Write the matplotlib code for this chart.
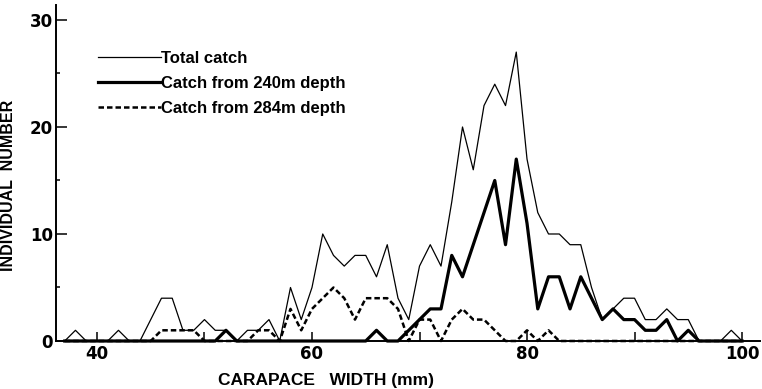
import matplotlib
matplotlib.use("Agg")
import matplotlib.pyplot as plt
from matplotlib.font_manager import FontProperties

# ---- data (carapace width in mm, individual counts) ----
widths = list(range(37, 101))
total_catch = [0, 1, 0, 0, 0, 1, 0, 0, 2, 4,
               4, 1, 1, 2, 1, 1, 0, 1, 1, 2,
               0, 5, 2, 5, 10, 8, 7, 8, 8, 6,
               9, 4, 2, 7, 9, 7, 13, 20, 16, 22,
               24, 22, 27, 17, 12, 10, 10, 9, 9, 5,
               2, 3, 4, 4, 2, 2, 3, 2, 2, 0,
               0, 0, 1, 0]
catch_240 = [0, 0, 0, 0, 0, 0, 0, 0, 0, 0,
             0, 0, 0, 0, 0, 1, 0, 0, 0, 0,
             0, 0, 0, 0, 0, 0, 0, 0, 0, 1,
             0, 0, 1, 2, 3, 3, 8, 6, 9, 12,
             15, 9, 17, 11, 3, 6, 6, 3, 6, 4,
             2, 3, 2, 2, 1, 1, 2, 0, 1, 0,
             0, 0, 0, 0]
catch_284 = [0, 0, 0, 0, 0, 0, 0, 0, 0, 1,
             1, 1, 1, 0, 0, 0, 0, 0, 1, 1,
             0, 3, 1, 3, 4, 5, 4, 2, 4, 4,
             4, 3, 0, 2, 2, 0, 2, 3, 2, 2,
             1, 0, 0, 1, 0, 1, 0, 0, 0, 0,
             0, 0, 0, 0, 0, 0, 0, 0, 0, 0,
             0, 0, 0, 0]
series_labels = ["Total catch", "Catch from 240m depth", "Catch from 284m depth"]
x_major = [40, 60, 80, 100]
x_minor = [50, 70, 90]
y_major = [0, 10, 20, 30]
y_minor = [5, 15, 25]

W, H = 762, 389
fig = plt.figure(figsize=(W / 100, H / 100), dpi=100)
ax = fig.add_axes([56 / W, (H - 341) / H, (760 - 56) / W, (341 - 5) / H])

dash = (0, (2.2, 1.2))
l1, = ax.plot(widths, total_catch, color="black", lw=0.9, clip_on=False)
l2, = ax.plot(widths, catch_240, color="black", lw=2.3, clip_on=False)
l3, = ax.plot(widths, catch_284, color="black", lw=1.8, linestyle=dash, clip_on=False)

ax.set_xlim(36.19, 101.67)
ax.set_ylim(0, 31.4)

for s in ["top", "right"]:
    ax.spines[s].set_visible(False)
for s in ["left", "bottom"]:
    ax.spines[s].set_linewidth(1.4)

ax.set_xticks(x_major)
ax.set_xticks(x_minor, minor=True)
ax.set_yticks(y_major)
ax.set_yticks(y_minor, minor=True)
tickfont = dict(family="DejaVu Sans", weight="bold", size=12)
ax.set_xticklabels([str(v) for v in x_major], **tickfont)
ax.set_yticklabels([str(v) for v in y_major], **tickfont)
ax.tick_params(axis="x", which="both", direction="in", length=6.5, width=1.1, pad=3)
ax.tick_params(axis="y", which="major", direction="in", length=8, width=1.1, pad=2)
ax.tick_params(axis="y", which="minor", direction="in", length=3, width=1.1)

lp = FontProperties(family="Liberation Sans", weight="bold", size=12)
ax.legend([l1, l2, l3], series_labels, loc="upper left",
          bbox_to_anchor=(98 / W, 1 - 51 / H), bbox_transform=fig.transFigure,
          frameon=False, handlelength=3.8, handletextpad=0.0, borderpad=0,
          borderaxespad=0, labelspacing=0.6, prop=lp)

fig.text(9 / W, 1 - 185 / H, "INDIVIDUAL  NUMBER", rotation=90, ha="center", va="center",
         family="Liberation Sans", weight="bold", size=11.5)
fig.text(326 / W, 1 - 380 / H, "CARAPACE   WIDTH (mm)", ha="center", va="center",
         family="Liberation Sans", weight="bold", size=12.5)

fig.savefig("out.png", dpi=100)
